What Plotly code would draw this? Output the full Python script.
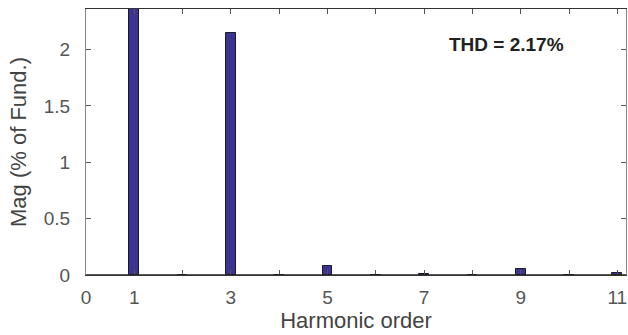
import plotly.graph_objects as go

harmonics = [1, 2, 3, 4, 5, 6, 7, 8, 9, 10, 11]
magnitudes = [100.0, 0.0, 2.15, 0.0, 0.083, 0.0, 0.006, 0.0, 0.053, 0.0, 0.02]
tick_vals = [0, 1, 2, 3, 4, 5, 6, 7, 8, 9, 10, 11]
tick_text = ["0", "1", "", "3", "", "5", "", "7", "", "9", "", "11"]
y_tick_vals = [0, 0.5, 1, 1.5, 2]
y_tick_text = ["0", "0.5", "1", "1.5", "2"]
thd_text = "THD = 2.17%"

FONT = "Liberation Sans, Arial, sans-serif"

fig = go.Figure()
fig.add_trace(go.Bar(
    x=harmonics, y=magnitudes, width=0.2,
    marker=dict(color="#3d3391", line=dict(color="#1a1a2e", width=1)),
))
# zero baseline
fig.add_shape(type="line", xref="x", yref="y", x0=0, x1=11.18, y0=0, y1=0,
              line=dict(color="#222222", width=1.5))

tick_font = dict(family=FONT, size=19, color="#555555")
title_font = dict(family=FONT, size=22, color="#444444")
fig.update_layout(
    width=628, height=335,
    margin=dict(l=86, r=2, t=9, b=60),
    plot_bgcolor="white", paper_bgcolor="white",
    showlegend=False,
    bargap=0,
    xaxis=dict(range=[0, 11.18], tickvals=tick_vals, ticktext=tick_text,
               ticks="inside", ticklen=5, tickcolor="#555555", mirror="ticks",
               showline=True, linecolor="#333333", linewidth=1,
               showgrid=False, zeroline=False,
               ticklabelstandoff=5,
               title=dict(text="Harmonic order", font=title_font, standoff=2),
               tickfont=tick_font),
    yaxis=dict(range=[0, 2.36], tickvals=y_tick_vals, ticktext=y_tick_text,
               ticks="inside", ticklen=5, tickcolor="#555555", mirror="ticks",
               showline=True, linecolor="#888888", linewidth=1,
               showgrid=False, zeroline=False,
               ticklabelstandoff=11,
               title=dict(text="Mag (% of Fund.)", font=title_font, standoff=11),
               tickfont=tick_font),
)
fig.add_annotation(x=0.778, y=0.865, xref="paper", yref="paper", xanchor="center", yanchor="middle",
                   text="<b>" + thd_text + "</b>", showarrow=False,
                   font=dict(family=FONT, size=19, color="#222222"))
fig.update_yaxes(layer="above traces")
fig.write_html("out.html")
